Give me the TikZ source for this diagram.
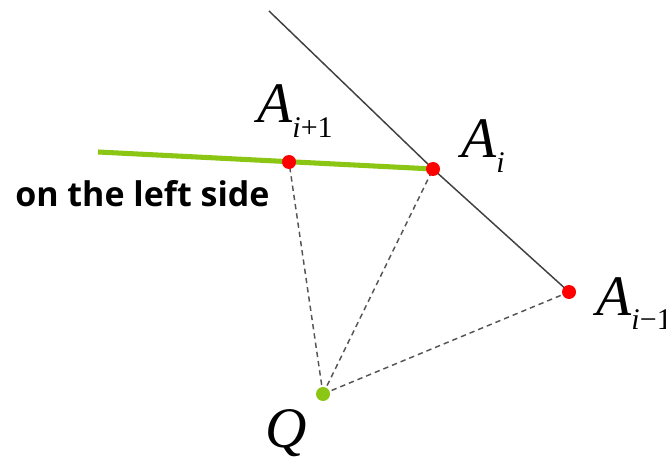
\documentclass[tikz,border=0pt]{standalone}
\usepackage{fontspec}
\newfontfamily\tnr{Liberation Serif}
\newfontfamily\osans{Open Sans}
\definecolor{limegreen}{RGB}{140,198,20}
\definecolor{dotred}{RGB}{255,0,0}
\definecolor{linegray}{RGB}{64,64,64}
\definecolor{dashgray}{RGB}{85,85,85}
\newcommand{\bigA}{{\fontsize{43}{43}\selectfont\textit{A}}}
\newcommand{\subsc}[1]{\raisebox{-11pt}{\fontsize{22.5}{22.5}\selectfont #1}}
\begin{document}
\begin{tikzpicture}[x=0.75pt,y=-0.75pt,
  dotnode/.style={circle,inner sep=0pt,minimum size=10.5pt},
  reddot/.style={dotnode,fill=dotred},
  greendot/.style={dotnode,fill=limegreen},
  edgeline/.style={draw=linegray,line width=1.1pt},
  greenline/.style={draw=limegreen,line width=3.8pt},
  dashline/.style={draw=dashgray,line width=1.1pt,dash pattern=on 4pt off 3pt},
  lbl/.style={anchor=base west,inner sep=0pt,font=\tnr}]
\useasboundingbox (0,0) rectangle (666,459);
\coordinate (top) at (269,11);
\coordinate (gstart) at (98,152);
\coordinate (pAip1) at (289,162);
\coordinate (pAi) at (433,169);
\coordinate (pAim1) at (569,292);
\coordinate (pQ) at (323,394);
% lines
\draw[edgeline] (top) -- (pAi) -- (pAim1);
\draw[greenline] (gstart) -- (pAi);
\draw[dashline] (pQ) -- (pAip1);
\draw[dashline] (pQ) -- (pAi);
\draw[dashline] (pQ) -- (pAim1);
% dots
\node[reddot] (Aip1) at (pAip1) {};
\node[reddot] (Ai) at (pAi) {};
\node[reddot] (Aim1) at (pAim1) {};
\node[greendot] (Q) at (pQ) {};
% labels
\node[lbl] (lAip1) at (257,123) {\bigA\subsc{\textit{i}+1}};
\node[lbl] (lAi) at (461,158) {\bigA\subsc{\textit{i}}};
\node[lbl] (lAim1) at (596,315) {\bigA\subsc{\textit{i}−1}};
\node[lbl] (lQ) at (265,447) {{\fontsize{43}{43}\selectfont\textit{Q}}};
\node[anchor=base west,inner sep=0pt,font=\osans\bfseries\fontsize{25.5}{25.5}\selectfont] (side) at (15,207) {on the left side};
\end{tikzpicture}
\end{document}
